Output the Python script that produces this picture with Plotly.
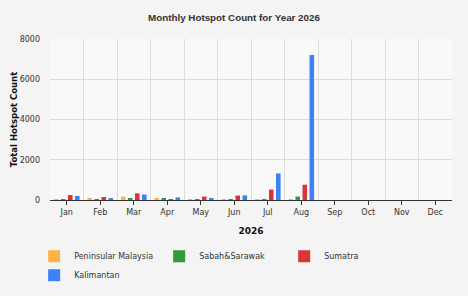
import plotly.graph_objects as go

months = ["Jan", "Feb", "Mar", "Apr", "May", "Jun", "Jul", "Aug", "Sep", "Oct", "Nov", "Dec"]
peninsular = [10, 60, 170, 70, 30, 10, 10, 30, 0, 0, 0, 0]
sabah = [5, 10, 60, 80, 5, 30, 20, 170, 0, 0, 0, 0]
sumatra = [250, 150, 330, 40, 170, 220, 520, 760, 0, 0, 0, 0]
kalimantan = [200, 100, 270, 130, 100, 230, 1320, 7200, 0, 0, 0, 0]

series = [
    ("Peninsular Malaysia", peninsular, "#ffb347"),
    ("Sabah&Sarawak", sabah, "#33993a"),
    ("Sumatra", sumatra, "#d9343a"),
    ("Kalimantan", kalimantan, "#3b82f6"),
]

x = list(range(len(months)))
fig = go.Figure()
for name, vals, color in series:
    fig.add_trace(go.Bar(x=x, y=vals, name=name, marker_color=color, marker_line_width=0))

fig.update_layout(
    width=468, height=296,
    margin=dict(l=50, r=16, t=39, b=96, autoexpand=False),
    paper_bgcolor="#f4f4f4",
    plot_bgcolor="#f9f9f9",
    barmode="group",
    bargap=0.16,
    bargroupgap=0.35,
    font=dict(family="DejaVu Sans", size=8, color="#333"),
    title=dict(text="<b>Monthly Hotspot Count for Year 2026</b>", x=0.5, xanchor="center",
               y=0.94, yanchor="middle",
               font=dict(family="Liberation Sans", size=9.8, color="#333")),
    xaxis=dict(
        tickvals=x, ticktext=months, range=[-0.5, 11.5],
        showgrid=False, ticks="outside", ticklen=4, tickcolor="#333",
        showline=True, linecolor="#333", linewidth=1,
        minor=dict(tick0=0.5, dtick=1, showgrid=True, gridcolor="#dcdcdc", ticks=""),
        title=dict(text="<b>2026</b>", font=dict(family="DejaVu Sans", size=9, color="#111"), standoff=12),
        zeroline=False,
    ),
    yaxis=dict(
        range=[0, 8000], tickvals=[0, 2000, 4000, 6000, 8000],
        showgrid=True, gridcolor="#dcdcdc", zeroline=False, showline=False,
        ticks="", ticklabelstandoff=9,
        title=dict(text="<b>Total Hotspot Count</b>", font=dict(family="DejaVu Sans", size=8.5, color="#111"), standoff=0),
    ),
    legend=dict(orientation="h", xref="container", x=0.073, xanchor="left",
                yref="container", y=0.183, yanchor="top",
                entrywidth=80, entrywidthmode="pixels", tracegroupgap=0,
                font=dict(family="DejaVu Sans", size=8, color="#333"),
                bgcolor="rgba(0,0,0,0)", itemwidth=30),
)

fig.write_html("out.html")
